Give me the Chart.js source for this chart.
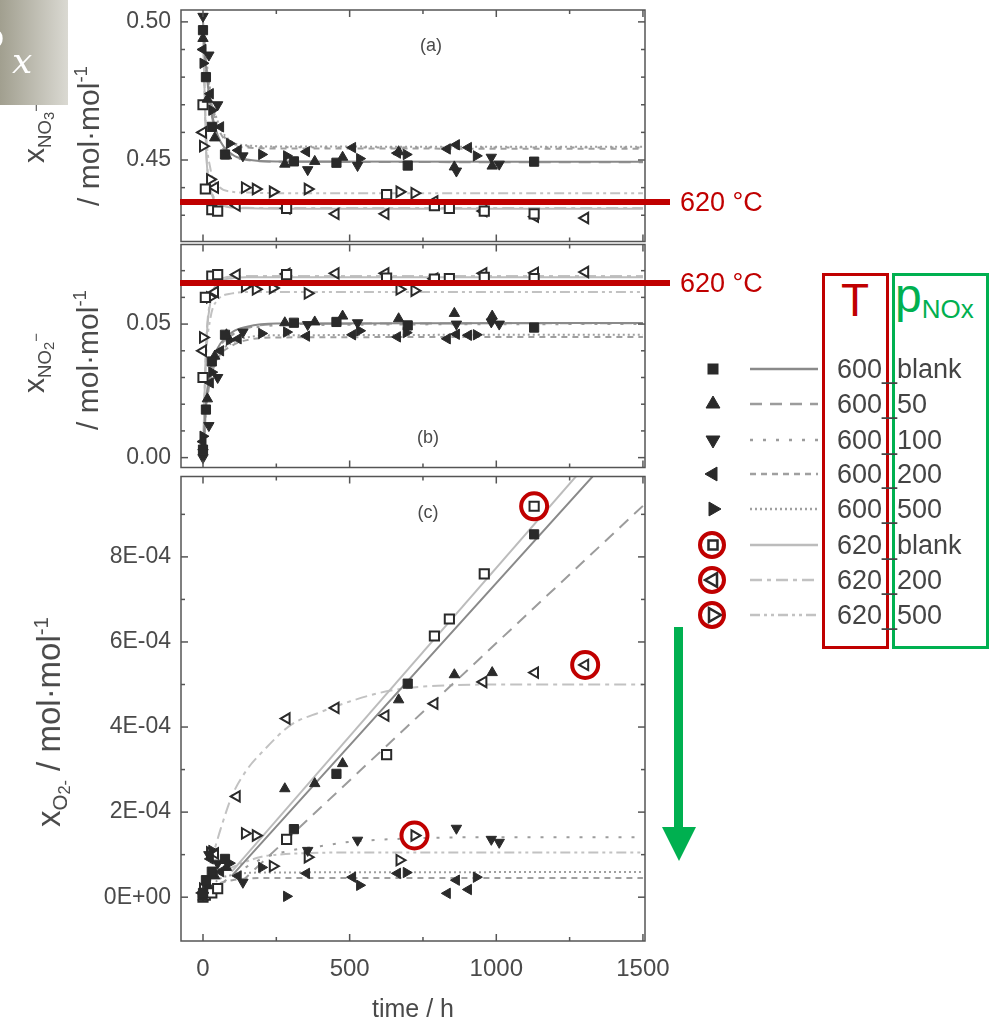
<!DOCTYPE html>
<html>
<head>
<meta charset="utf-8">
<script src="https://cdn.jsdelivr.net/npm/chart.js@4.4.0/dist/chart.umd.min.js"></script>
<style>
  body { margin: 0; }
  #page { position: relative; width: 994px; height: 1025px; background: #fff; overflow: hidden;
          font-family: "Liberation Sans", Arial, sans-serif; color: #4a4a4a; }
  canvas { position: absolute; left: 0; }
  .ytitle { position: absolute; white-space: nowrap; transform: translate(-50%, -50%) rotate(-90deg);
            font-size: 30px; color: #4a4a4a; line-height: 1; }
  .sub { font-size: 0.62em; vertical-align: -0.35em; }
  .sup { font-size: 0.62em; vertical-align: 0.6em; }
  .panel { position: absolute; font-size: 18px; color: #4a4a4a; transform: translate(-50%, -50%); }
  .redbar { position: absolute; left: 180px; width: 490px; height: 6px; background: #c00000; }
  .redtxt { position: absolute; left: 680px; font-size: 27px; color: #c00000; transform: translateY(-50%); white-space: nowrap; }
  .legtxt { position: absolute; left: 837px; font-size: 27px; color: #444; transform: translateY(-50%); white-space: nowrap; }
</style>
</head>
<body>
<div id="page">
  <canvas id="chartA" width="700" height="250" style="top:0px"></canvas>
  <canvas id="chartB" width="700" height="240" style="top:236px"></canvas>
  <canvas id="chartC" width="700" height="557" style="top:468px"></canvas>

  <!-- axis titles -->
  <div class="ytitle" style="left:38px;top:133px">x<span class="sub">NO<span style="font-size:.8em;vertical-align:-0.2em">3</span><span style="font-size:.8em;vertical-align:0.7em">−</span></span></div>
  <div class="ytitle" style="left:88px;top:136px">/ mol·mol<span class="sup">-1</span></div>
  <div class="ytitle" style="left:38px;top:363px">x<span class="sub">NO<span style="font-size:.8em;vertical-align:-0.2em">2</span><span style="font-size:.8em;vertical-align:0.7em">−</span></span></div>
  <div class="ytitle" style="left:87px;top:360px">/ mol·mol<span class="sup">-1</span></div>
  <div class="ytitle" style="left:52px;top:722px;font-size:33px">x<span class="sub">O<span style="font-size:.8em;vertical-align:-0.2em">2-</span></span> / mol·mol<span class="sup">-1</span></div>

  <div class="panel" style="left:431px;top:45px">(a)</div>
  <div class="panel" style="left:428px;top:437px">(b)</div>
  <div class="panel" style="left:428px;top:512px">(c)</div>

  <!-- annotations -->
  <div style="position:absolute;left:0;top:0;width:68px;height:105px;background:linear-gradient(90deg,#a19f8f,#dad9d2)"></div>
  <div style="position:absolute;left:-14px;top:14px;font:36px 'Liberation Serif',serif;color:#fff">o</div>
  <div style="position:absolute;left:12px;top:40px;font:italic 36px 'DejaVu Serif',serif;color:#fff">x</div>

  <div class="redbar" style="top:199px"></div>
  <div class="redtxt" style="top:202px">620 °C</div>
  <div class="redbar" style="top:280px"></div>
  <div class="redtxt" style="top:283px">620 °C</div>

  <div style="position:absolute;left:822px;top:273px;width:67px;height:376px;box-sizing:border-box;border:3px solid #c00000"></div>
  <div style="position:absolute;left:892px;top:273px;width:97px;height:376px;box-sizing:border-box;border:3px solid #00b050"></div>
  <div style="position:absolute;left:855px;top:277px;transform:translateX(-50%);font-size:46px;line-height:1;color:#c00000">T</div>
  <div style="position:absolute;left:895px;top:272px;font-size:48px;line-height:1;color:#00b050;white-space:nowrap">p<span style="font-size:26px;vertical-align:-6px">NOx</span></div>

  <div style="position:absolute;left:674px;top:627px;width:9px;height:205px;background:#00b050"></div>
  <div style="position:absolute;left:662px;top:827px;width:0;height:0;border-left:17px solid transparent;border-right:17px solid transparent;border-top:34px solid #00b050"></div>

  <svg id="legendSvg" width="994" height="1025" style="position:absolute;left:0;top:0;pointer-events:none"></svg>
  <div id="legendText"></div>
</div>

<script>
// tick positions / labels
const xMajor = [0, 500, 1000, 1500];
const xMinor = [250, 750, 1250];
const yTicksA = [0.45, 0.50];
const yMinorA = [0.43, 0.44, 0.46, 0.47, 0.48, 0.49];
const yTicksB = [0.00, 0.05];
const yMinorB = [0.01, 0.02, 0.03, 0.04, 0.06, 0.07];
const yTicksC = [0, 2e-4, 4e-4, 6e-4, 8e-4];
const yMinorC = [1e-4, 3e-4, 5e-4, 7e-4, 9e-4];

// measured points: time (h) and values for panels a (NO3-), b (NO2-), c (O2-)
const tBlank600 = [0, 10, 30, 75, 310, 455, 698, 1129];
const aBlank600 = [0.497, 0.480, 0.462, 0.452, 0.4495, 0.4490, 0.4480, 0.4494];
const bBlank600 = [0.003, 0.018, 0.036, 0.046, 0.0505, 0.0508, 0.0495, 0.0487];
const cBlank600 = [0.1e-4, 0.4e-4, 0.6e-4, 0.9e-4, 1.6e-4, 2.9e-4, 5.02e-4, 8.53e-4];

const t50 = [0, 15, 40, 80, 279, 381, 476, 667, 857, 986];
const a50 = [0.494, 0.472, 0.458, 0.4515, 0.4485, 0.4495, 0.4510, 0.4530, 0.4475, 0.4478];
const b50 = [0.004, 0.022, 0.038, 0.046, 0.0505, 0.0508, 0.0530, 0.0520, 0.0540, 0.0530];
const c50 = [0.0, 0.3e-4, 0.5e-4, 0.7e-4, 2.55e-4, 2.67e-4, 3.14e-4, 4.64e-4, 5.23e-4, 5.28e-4];

const t100 = [0, 20, 50, 136, 357, 527, 864, 983, 1010];
const a100 = [0.502, 0.488, 0.470, 0.4515, 0.4465, 0.4480, 0.4460, 0.4510, 0.4485];
const b100 = [0.000, 0.012, 0.030, 0.047, 0.0498, 0.0505, 0.0500, 0.0508, 0.0500];
const c100 = [0.05e-4, 1.0e-4, 0.8e-4, 0.35e-4, 1.1e-4, 1.34e-4, 1.62e-4, 1.36e-4, 1.29e-4];

const t200 = [0, 25, 60, 120, 353, 510, 663, 833, 864, 905];
const a200 = [0.490, 0.474, 0.462, 0.4535, 0.4530, 0.4545, 0.4525, 0.4540, 0.4555, 0.4545];
const b200 = [0.006, 0.028, 0.040, 0.0445, 0.0455, 0.0460, 0.0452, 0.0445, 0.0462, 0.0458];
const c200 = [0.1e-4, 0.9e-4, 0.6e-4, 0.5e-4, 0.56e-4, 0.47e-4, 0.56e-4, 0.09e-4, 0.40e-4, 0.18e-4];

const t500 = [0, 30, 90, 200, 285, 534, 693, 932];
const a500 = [0.485, 0.468, 0.456, 0.4520, 0.4515, 0.4505, 0.4520, 0.4515];
const b500 = [0.008, 0.032, 0.044, 0.0465, 0.0470, 0.0475, 0.0468, 0.0460];
const c500 = [0.1e-4, 1.1e-4, 0.8e-4, 0.7e-4, 0.02e-4, 0.28e-4, 0.58e-4, 0.47e-4];

const tBlank620 = [0, 8, 30, 50, 285, 626, 789, 840, 959, 1129];
const aBlank620 = [0.470, 0.4395, 0.4320, 0.4315, 0.4325, 0.4375, 0.4335, 0.4325, 0.4315, 0.4305];
const bBlank620 = [0.030, 0.060, 0.0680, 0.0685, 0.0685, 0.0672, 0.0668, 0.0670, 0.0675, 0.0670];
const cBlank620 = [0.0, 0.05e-4, 0.1e-4, 0.2e-4, 1.36e-4, 3.35e-4, 6.14e-4, 6.54e-4, 7.6e-4, 9.19e-4];

const t200b = [0, 41, 115, 285, 452, 622, 789, 956, 1132, 1303];
const a200b = [0.460, 0.440, 0.4335, 0.4325, 0.4305, 0.4305, 0.4350, 0.4315, 0.4295, 0.4290];
const b200b = [0.040, 0.062, 0.0685, 0.0688, 0.0690, 0.0690, 0.0670, 0.0690, 0.0692, 0.0695];
const c200b = [0.1e-4, 1.03e-4, 2.37e-4, 4.2e-4, 4.45e-4, 4.27e-4, 4.55e-4, 5.06e-4, 5.28e-4, 5.46e-4];

const t500b = [0, 24, 143, 180, 238, 357, 670, 721];
const a500b = [0.455, 0.443, 0.4400, 0.4395, 0.4385, 0.4395, 0.4385, 0.4380];
const b500b = [0.045, 0.060, 0.0640, 0.0630, 0.0635, 0.0615, 0.0630, 0.0625];
const c500b = [0.2e-4, 1.05e-4, 1.5e-4, 1.45e-4, 0.73e-4, 0.94e-4, 0.87e-4, 1.45e-4];

// fit curves (a) and (b) share the time grid
const fitTime = [0, 10, 25, 50, 100, 150, 250, 1500];
const fitABlank600 = [0.498, 0.484, 0.470, 0.459, 0.452, 0.4502, 0.4495, 0.4494];
const fitA50 = [0.497, 0.483, 0.469, 0.458, 0.4515, 0.4500, 0.4494, 0.4492];
const fitA100 = [0.500, 0.487, 0.474, 0.463, 0.456, 0.4550, 0.4546, 0.4545];
const fitA200 = [0.499, 0.486, 0.473, 0.462, 0.4555, 0.4545, 0.4542, 0.4541];
const fitA500 = [0.500, 0.488, 0.475, 0.464, 0.4565, 0.4553, 0.4549, 0.4548];
const fitABlank620 = [0.500, 0.455, 0.440, 0.4345, 0.4328, 0.4325, 0.4324, 0.4324];
const fitA200b = [0.500, 0.456, 0.441, 0.435, 0.433, 0.4327, 0.4326, 0.4326];
const fitA500b = [0.500, 0.462, 0.447, 0.441, 0.4385, 0.4382, 0.4380, 0.4380];

const fitBBlank600 = [0.000, 0.020, 0.033, 0.041, 0.047, 0.049, 0.0502, 0.0504];
const fitB50 = [0.000, 0.019, 0.032, 0.040, 0.046, 0.0485, 0.0500, 0.0503];
const fitB100 = [0.000, 0.018, 0.031, 0.040, 0.046, 0.048, 0.0495, 0.0500];
const fitB200 = [0.000, 0.017, 0.029, 0.037, 0.042, 0.044, 0.0450, 0.0452];
const fitB500 = [0.000, 0.018, 0.030, 0.038, 0.043, 0.045, 0.0458, 0.0460];
const fitBBlank620 = [0.000, 0.040, 0.058, 0.065, 0.0672, 0.0675, 0.0675, 0.0675];
const fitB200b = [0.000, 0.041, 0.059, 0.066, 0.0678, 0.0680, 0.0680, 0.0680];
const fitB500b = [0.000, 0.036, 0.052, 0.059, 0.0615, 0.0620, 0.0620, 0.0620];

// fit curves (c)
const fitCtBlank600 = [98, 1500];
const fitCBlank600 = [0.5e-4, 11.2e-4];
const fitCt50 = [126, 1500];
const fitC50 = [0.33e-4, 9.2e-4];
const fitCt100 = [0, 100, 200, 300, 400, 500, 700, 1000, 1500];
const fitC100 = [0, 0.5e-4, 0.9e-4, 1.1e-4, 1.2e-4, 1.3e-4, 1.38e-4, 1.41e-4, 1.41e-4];
const fitCt200 = [0, 50, 100, 200, 1500];
const fitC200 = [0, 0.3e-4, 0.4e-4, 0.45e-4, 0.45e-4];
const fitCt500 = [0, 50, 100, 200, 1500];
const fitC500 = [0, 0.4e-4, 0.52e-4, 0.58e-4, 0.59e-4];
const fitCtBlank620 = [98, 1500];
const fitCBlank620 = [0.6e-4, 11.7e-4];
const fitCt200b = [0, 30, 60, 100, 150, 200, 300, 400, 500, 600, 700, 800, 1000, 1500];
const fitC200b = [0.2e-4, 0.9e-4, 1.6e-4, 2.4e-4, 3.0e-4, 3.4e-4, 4.05e-4, 4.35e-4, 4.6e-4, 4.8e-4, 4.92e-4, 4.97e-4, 5.0e-4, 5.0e-4];
const fitCt500b = [0, 100, 200, 300, 500, 1500];
const fitC500b = [0.3e-4, 0.7e-4, 0.95e-4, 1.02e-4, 1.05e-4, 1.05e-4];

const series = [
  { name: '600_blank', t: tBlank600, a: aBlank600, b: bBlank600, c: cBlank600, fitA: fitABlank600, fitB: fitBBlank600, fitCt: fitCtBlank600, fitC: fitCBlank600 },
  { name: '600_50', t: t50, a: a50, b: b50, c: c50, fitA: fitA50, fitB: fitB50, fitCt: fitCt50, fitC: fitC50 },
  { name: '600_100', t: t100, a: a100, b: b100, c: c100, fitA: fitA100, fitB: fitB100, fitCt: fitCt100, fitC: fitC100 },
  { name: '600_200', t: t200, a: a200, b: b200, c: c200, fitA: fitA200, fitB: fitB200, fitCt: fitCt200, fitC: fitC200 },
  { name: '600_500', t: t500, a: a500, b: b500, c: c500, fitA: fitA500, fitB: fitB500, fitCt: fitCt500, fitC: fitC500 },
  { name: '620_blank', t: tBlank620, a: aBlank620, b: bBlank620, c: cBlank620, fitA: fitABlank620, fitB: fitBBlank620, fitCt: fitCtBlank620, fitC: fitCBlank620 },
  { name: '620_200', t: t200b, a: a200b, b: b200b, c: c200b, fitA: fitA200b, fitB: fitB200b, fitCt: fitCt200b, fitC: fitC200b },
  { name: '620_500', t: t500b, a: a500b, b: b500b, c: c500b, fitA: fitA500b, fitB: fitB500b, fitCt: fitCt500b, fitC: fitC500b },
];

// points circled in red in panel (c): [series, time]
const ringedC = [['620_blank', 1129], ['620_200', 1303], ['620_500', 721]];

const styles = {
  '600_blank': { shape: 'rect', rot: 0, open: false, color: '#8a8a8a', dash: [] },
  '600_50': { shape: 'triangle', rot: 0, open: false, color: '#9c9c9c', dash: [12, 8] },
  '600_100': { shape: 'triangle', rot: 180, open: false, color: '#9c9c9c', dash: [3, 10] },
  '600_200': { shape: 'triangle', rot: 270, open: false, color: '#a0a0a0', dash: [6, 5] },
  '600_500': { shape: 'triangle', rot: 90, open: false, color: '#a0a0a0', dash: [2, 3] },
  '620_blank': { shape: 'rect', rot: 0, open: true, color: '#bcbcbc', dash: [] },
  '620_200': { shape: 'triangle', rot: 270, open: true, color: '#c2c2c2', dash: [12, 5, 4, 5] },
  '620_500': { shape: 'triangle', rot: 90, open: true, color: '#c2c2c2', dash: [10, 4, 3, 4, 3, 4] },
};

const pairs = (xs, ys) => xs.map((x, i) => ({ x, y: ys[i] }));
const FONT = '"Liberation Sans", Arial, sans-serif';

function buildDatasets(panel) {
  const fits = series.map(s => {
    const st = styles[s.name];
    const xs = panel === 'c' ? s.fitCt : fitTime;
    const ys = panel === 'a' ? s.fitA : panel === 'b' ? s.fitB : s.fitC;
    return {
      label: s.name + ' fit', data: pairs(xs, ys), showLine: true, pointRadius: 0,
      borderColor: st.color, borderWidth: 2, borderDash: st.dash,
      cubicInterpolationMode: 'monotone', order: 2,
    };
  });
  const pts = series.map(s => {
    const st = styles[s.name];
    return {
      label: s.name, data: pairs(s.t, s[panel]), showLine: false,
      pointStyle: st.shape, pointRotation: st.rot, pointRadius: st.shape === 'rect' ? 6.5 : 6,
      pointBackgroundColor: st.open ? '#ffffff' : '#2a2a2a', pointBorderColor: '#2a2a2a',
      pointBorderWidth: st.open ? 2 : 1, order: 1,
    };
  });
  return fits.concat(pts);
}

// frame with inward ticks on all four sides
function framePlugin(yMajor, yMinor) {
  return {
    id: 'frame',
    afterDraw(chart) {
      const { ctx, chartArea: a, scales: { x, y } } = chart;
      ctx.save();
      ctx.strokeStyle = '#555';
      ctx.lineWidth = 1.5;
      ctx.strokeRect(a.left, a.top, a.right - a.left, a.bottom - a.top);
      const seg = (x1, y1, x2, y2) => { ctx.beginPath(); ctx.moveTo(x1, y1); ctx.lineTo(x2, y2); ctx.stroke(); };
      [[xMajor, 7], [xMinor, 4]].forEach(([vals, len]) => vals.forEach(v => {
        const p = x.getPixelForValue(v);
        seg(p, a.bottom, p, a.bottom - len);
        seg(p, a.top, p, a.top + len);
      }));
      [[yMajor, 7], [yMinor, 4]].forEach(([vals, len]) => vals.forEach(v => {
        const p = y.getPixelForValue(v);
        seg(a.left, p, a.left + len, p);
        seg(a.right, p, a.right - len, p);
      }));
      ctx.restore();
    }
  };
}

function ringPlugin(targets) {
  return {
    id: 'rings',
    afterDatasetsDraw(chart) {
      const { ctx } = chart;
      ctx.save();
      ctx.strokeStyle = '#c00000';
      ctx.lineWidth = 4;
      targets.forEach(([name, time]) => {
        const di = chart.data.datasets.findIndex(d => d.label === name);
        const s = series.find(q => q.name === name);
        const pi = s.t.indexOf(time);
        const el = chart.getDatasetMeta(di).data[pi];
        ctx.beginPath();
        ctx.arc(el.x, el.y, 13, 0, Math.PI * 2);
        ctx.stroke();
      });
      ctx.restore();
    }
  };
}

function renderPanel(canvasId, panel, cfg) {
  const el = document.getElementById(canvasId);
  const plugins = [framePlugin(cfg.yMajor, cfg.yMinor)];
  if (cfg.rings) plugins.push(ringPlugin(cfg.rings));
  new Chart(el, {
    type: 'scatter',
    data: { datasets: buildDatasets(panel) },
    plugins,
    options: {
      responsive: false,
      animation: false,
      layout: { padding: { left: 0, right: 55, top: cfg.padTop, bottom: cfg.padBottom } },
      plugins: { legend: { display: false }, tooltip: { enabled: false } },
      scales: {
        x: {
          type: 'linear', min: -75, max: 1507,
          display: cfg.showX,
          afterBuildTicks: s => { s.ticks = xMajor.map(v => ({ value: v })); },
          afterFit: s => {
            if (cfg.showX) s.height = 84;
            s.paddingLeft = 0; s.paddingRight = 0;
          },
          grid: { display: false, drawTicks: false },
          border: { display: false },
          ticks: { padding: 14, autoSkip: false, maxRotation: 0, color: '#4a4a4a', font: { family: FONT, size: 24 }, callback: v => String(v) },
          title: { display: cfg.showX, text: 'time / h', color: '#4a4a4a', font: { family: FONT, size: 25 }, padding: { top: 0, bottom: 0 } },
        },
        y: {
          type: 'linear', min: cfg.yMin, max: cfg.yMax,
          afterBuildTicks: s => { s.ticks = cfg.yMajor.map(v => ({ value: v })); },
          afterFit: s => { s.width = 181; s.paddingTop = 0; s.paddingBottom = 0; },
          grid: { display: false, drawTicks: false },
          border: { display: false },
          ticks: { padding: 10, color: '#4a4a4a', font: { family: FONT, size: 23 }, callback: cfg.fmt },
        },
      },
    },
  });
}

renderPanel('chartA', 'a', {
  yMin: 0.4205, yMax: 0.5043, yMajor: yTicksA, yMinor: yMinorA, padTop: 10, padBottom: 7, showX: false,
  fmt: v => v.toFixed(2),
});
renderPanel('chartB', 'b', {
  yMin: -0.0037, yMax: 0.0798, yMajor: yTicksB, yMinor: yMinorB, padTop: 7, padBottom: 6, showX: false,
  fmt: v => v.toFixed(2),
});
renderPanel('chartC', 'c', {
  yMin: -1.03e-4, yMax: 9.89e-4, yMajor: yTicksC, yMinor: yMinorC, padTop: 7, padBottom: 0, showX: true,
  rings: ringedC,
  fmt: v => v === 0 ? '0E+00' : Math.round(v * 1e4) + 'E-04',
});

// legend drawn beside the plots
(function buildLegend() {
  const svg = document.getElementById('legendSvg');
  const txt = document.getElementById('legendText');
  const NS = 'http://www.w3.org/2000/svg';
  const rowY = [369, 404, 440, 474, 509, 545, 580, 615];
  series.forEach((s, i) => {
    const st = styles[s.name];
    const y = rowY[i];
    const line = document.createElementNS(NS, 'line');
    line.setAttribute('x1', 750); line.setAttribute('x2', 818);
    line.setAttribute('y1', y); line.setAttribute('y2', y);
    line.setAttribute('stroke', st.color); line.setAttribute('stroke-width', 2.5);
    if (st.dash.length) line.setAttribute('stroke-dasharray', st.dash.join(' '));
    svg.appendChild(line);
    let shape;
    if (st.shape === 'rect') {
      const h = st.open ? 4.5 : 5;
      shape = document.createElementNS(NS, 'rect');
      shape.setAttribute('x', 713 - h); shape.setAttribute('y', y - h);
      shape.setAttribute('width', 2 * h); shape.setAttribute('height', 2 * h);
    } else {
      const r = 8;
      shape = document.createElementNS(NS, 'polygon');
      shape.setAttribute('points', `0,${-r} ${r * 0.866},${r / 2} ${-r * 0.866},${r / 2}`);
      shape.setAttribute('transform', `translate(713 ${y}) rotate(${st.rot})`);
    }
    shape.setAttribute('fill', st.open ? '#fff' : '#2a2a2a');
    shape.setAttribute('stroke', '#2a2a2a');
    shape.setAttribute('stroke-width', st.open ? 2.5 : 1);
    svg.appendChild(shape);
    if (st.open) {
      const c = document.createElementNS(NS, 'circle');
      c.setAttribute('cx', 712); c.setAttribute('cy', y); c.setAttribute('r', 12);
      c.setAttribute('fill', 'none'); c.setAttribute('stroke', '#c00000'); c.setAttribute('stroke-width', 4);
      svg.appendChild(c);
    }
    const d = document.createElement('div');
    d.className = 'legtxt';
    d.style.top = y + 'px';
    d.textContent = s.name;
    txt.appendChild(d);
  });
})();
</script>
</body>
</html>
